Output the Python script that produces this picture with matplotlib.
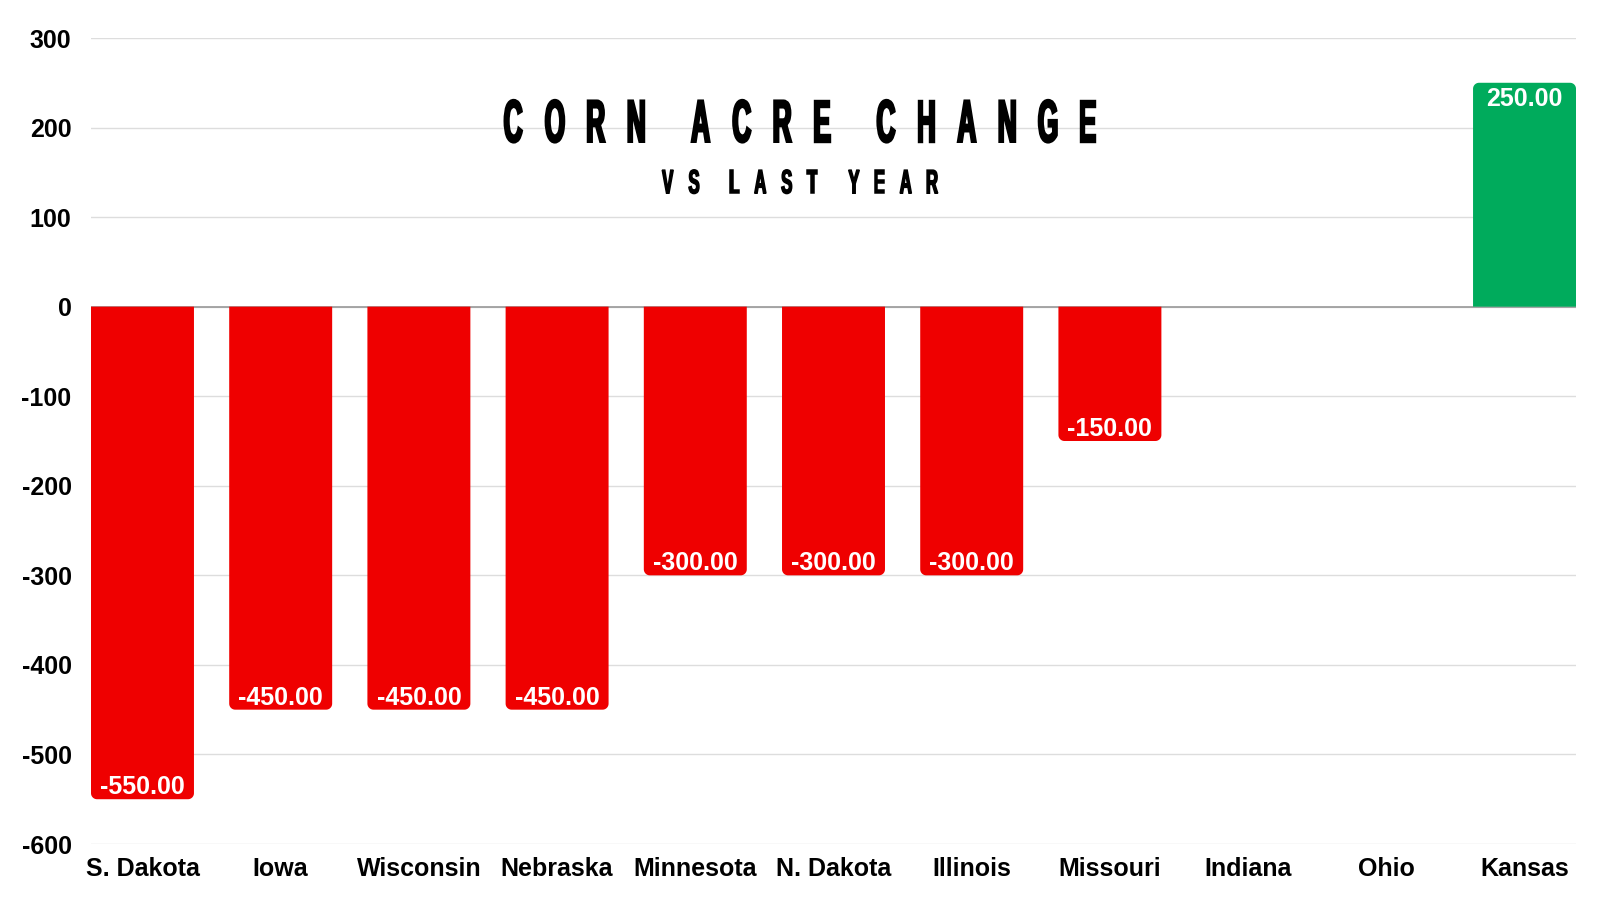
import numpy as np
import matplotlib.pyplot as plt
from matplotlib.path import Path
from matplotlib.patches import PathPatch
from matplotlib.textpath import TextPath
from matplotlib.font_manager import FontProperties
from matplotlib.transforms import Affine2D

# Chart data
states = ['S. Dakota', 'Iowa', 'Wisconsin', 'Nebraska', 'Minnesota', 'N. Dakota',
          'Illinois', 'Missouri', 'Indiana', 'Ohio', 'Kansas']
change = [-550, -450, -450, -450, -300, -300, -300, -150, 0, 0, 250]
yticks = [-600, -500, -400, -300, -200, -100, 0, 100, 200, 300]
title = 'CORN ACRE CHANGE'
subtitle = 'VS LAST YEAR'

red = '#ef0000'
green = '#00ab5c'
bar_w = 0.745

fig = plt.figure(figsize=(16, 9), dpi=100)
ax = fig.add_axes([91 / 1600, 1 - 844 / 900, 1485 / 1600, 806 / 900])

x = np.arange(len(states))
ax.set_xlim(-bar_w / 2, len(states) - 1 + bar_w / 2)
ax.set_ylim(-600, 300)

bbox = ax.get_position()
px_w = bbox.width * fig.get_figwidth() * fig.dpi
px_h = bbox.height * fig.get_figheight() * fig.dpi
x_per_px = (ax.get_xlim()[1] - ax.get_xlim()[0]) / px_w
y_per_px = (ax.get_ylim()[1] - ax.get_ylim()[0]) / px_h


def rounded_bar(xc, v, w, r_px=6):
    # bar from 0 to v, rounded corners only at the far end
    rx, ry = r_px * x_per_px, r_px * y_per_px
    s = np.sign(v)
    xl, xr = xc - w / 2, xc + w / 2
    t = np.linspace(0, np.pi / 2, 12)
    pts = [(xl, 0)]
    cx, cy = xl + rx, v - s * ry
    pts += [(cx - rx * np.cos(a), cy + s * ry * np.sin(a)) for a in t]
    cx = xr - rx
    pts += [(cx + rx * np.sin(a), cy + s * ry * np.cos(a)) for a in t]
    pts += [(xr, 0), (xl, 0)]
    codes = [Path.MOVETO] + [Path.LINETO] * (len(pts) - 2) + [Path.CLOSEPOLY]
    return Path(pts, codes)


for xi, v in zip(x, change):
    if v == 0:
        continue
    c = green if v > 0 else red
    ax.add_patch(PathPatch(rounded_bar(xi, v, bar_w), fc=c, ec='none', zorder=3))
    ax.text(xi, v - (np.sign(v) * 14 + 2) * y_per_px, f'{v:.2f}', ha='center', va='center',
            color='white', fontsize=18, fontweight='bold', family='Liberation Sans', zorder=4)

ax.set_yticks(yticks)
ax.set_yticklabels([str(t) for t in yticks])
ax.set_xticks(x)
ax.set_xticklabels(states)
for lab in ax.get_xticklabels() + ax.get_yticklabels():
    lab.set_fontfamily('Liberation Sans')
    lab.set_fontweight('bold')
    lab.set_fontsize(18)
ax.tick_params(axis='both', length=0)
ax.tick_params(axis='y', pad=14)
ax.tick_params(axis='x', pad=9.5)

ax.grid(axis='y', color='#dddddd', linewidth=1, zorder=0)
ax.axhline(0, color='#999999', linewidth=1.2, zorder=2)
for s in ax.spines.values():
    s.set_visible(False)


def spaced_title(text, cx, top_y, cap_h, total_w, sx, lw_px):
    # condensed, letter-spaced caps drawn in pixel coordinates
    fp = FontProperties(family='Liberation Sans', weight='bold')
    fill_cap = cap_h - lw_px
    size = fill_cap / 0.729
    base_y = top_y - cap_h + lw_px / 2
    glyphs = []
    for ch in text:
        if ch == ' ':
            glyphs.append(None)
            continue
        tp = TextPath((0, 0), ch, size=size, prop=fp)
        ext = tp.get_extents()
        glyphs.append((tp, ext.x0, ext.width * sx))
    ink = sum(g[2] for g in glyphs if g)
    n_letters = sum(1 for g in glyphs if g)
    n_words = text.count(' ')
    track = (total_w - lw_px - ink) / (n_letters - 1 + n_words)
    xpos = cx - total_w / 2 + lw_px / 2
    for g in glyphs:
        if g is None:
            xpos += track
            continue
        tp, x0, w = g
        tr = Affine2D().translate(-x0, 0).scale(sx, 1).translate(xpos, base_y)
        fig.add_artist(PathPatch(tp, transform=tr, fc='black', ec='black',
                                 lw=lw_px * 72 / fig.dpi, joinstyle='miter'))
        xpos += w + track


H = fig.get_figheight() * fig.dpi
spaced_title(title, 800, H - 97, 46, 593, sx=0.44, lw_px=2.4)
spaced_title(subtitle, 800, H - 168, 26, 277, sx=0.5, lw_px=1.5)

fig.savefig('out.png', dpi=100, facecolor='white')
